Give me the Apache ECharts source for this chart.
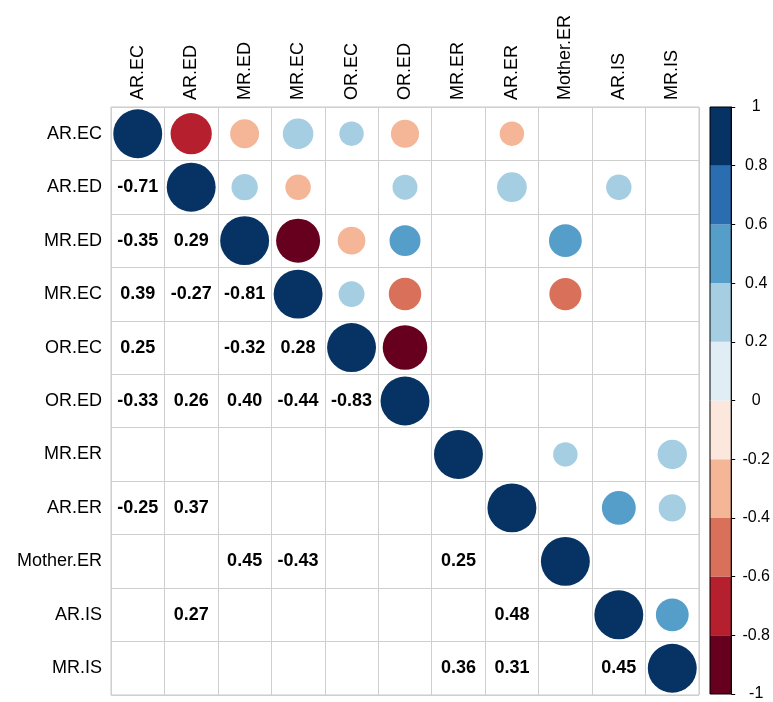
<!DOCTYPE html>
<html>
<head>
<meta charset="utf-8">
<script src="https://cdn.jsdelivr.net/npm/echarts@6/dist/echarts.min.js"></script>
<style>
html,body{margin:0;padding:0;background:#fff;}
#chart{width:773px;height:702px;}
</style>
</head>
<body>
<div id="chart"></div>
<script>
// Variable names (rows top->bottom, columns left->right)
const varNames = ['AR.EC','AR.ED','MR.ED','MR.EC','OR.EC','OR.ED','MR.ER','AR.ER','Mother.ER','AR.IS','MR.IS'];

// Lower triangle correlations (null = not significant / blank), diagonal = 1
const row_AR_EC     = [1];
const row_AR_ED     = [-0.71, 1];
const row_MR_ED     = [-0.35, 0.29, 1];
const row_MR_EC     = [0.39, -0.27, -0.81, 1];
const row_OR_EC     = [0.25, null, -0.32, 0.28, 1];
const row_OR_ED     = [-0.33, 0.26, 0.40, -0.44, -0.83, 1];
const row_MR_ER     = [null, null, null, null, null, null, 1];
const row_AR_ER     = [-0.25, 0.37, null, null, null, null, null, 1];
const row_Mother_ER = [null, null, 0.45, -0.43, null, null, 0.25, null, 1];
const row_AR_IS     = [null, 0.27, null, null, null, null, null, 0.48, null, 1];
const row_MR_IS     = [null, null, null, null, null, null, 0.36, 0.31, null, 0.45, 1];

// Colour bar breaks and bin colours
const colorBreaks = [-1, -0.8, -0.6, -0.4, -0.2, 0, 0.2, 0.4, 0.6, 0.8, 1];
const colorBins = ['#67001F','#B51F2E','#D9705A','#F5B597','#FCE7DC','#E1EDF5','#A6CEE3','#549EC9','#2A6DB0','#063264'];

const lowerRows = [row_AR_EC,row_AR_ED,row_MR_ED,row_MR_EC,row_OR_EC,row_OR_ED,row_MR_ER,row_AR_ER,row_Mother_ER,row_AR_IS,row_MR_IS];

const circleData = [];
const textData = [];
lowerRows.forEach((row, i) => {
  row.forEach((v, j) => {
    if (v === null) return;
    if (i === j) {
      circleData.push([varNames[j], varNames[i], v]);
    } else {
      textData.push([varNames[j], varNames[i], v]);
      circleData.push([varNames[i], varNames[j], v]); // mirrored into upper triangle
    }
  });
});

const barData = [];
for (let k = 0; k < colorBins.length; k++) {
  barData.push([colorBreaks[k], colorBreaks[k+1], k]);
}

const pieces = colorBins.map((c, k) => ({gte: colorBreaks[k], lt: colorBreaks[k+1] + (k === colorBins.length - 1 ? 0.001 : 0), color: c}));

const FONT = 'Liberation Sans, Arial, sans-serif';
const cellPx = 588 / varNames.length;

const chart = echarts.init(document.getElementById('chart'), null, {renderer: 'canvas'});
chart.setOption({
  backgroundColor: '#ffffff',
  animation: false,
  grid: [
    {left: 111, top: 107, width: 588, height: 588, show: true, borderColor: '#C8C8C8', borderWidth: 1, backgroundColor: 'transparent'},
    {left: 710, top: 107, width: 22, height: 588, show: false}
  ],
  xAxis: [
    {
      type: 'category', gridIndex: 0, data: varNames, position: 'top',
      axisLine: {show: false}, axisTick: {show: false},
      splitLine: {show: true, interval: 0, lineStyle: {color: '#CFCFCF', width: 1}},
      axisLabel: {rotate: -90, interval: 0, margin: 7, color: '#000', fontSize: 18, fontFamily: FONT}
    },
    {type: 'value', gridIndex: 1, min: 0, max: 1, show: false}
  ],
  yAxis: [
    {
      type: 'category', gridIndex: 0, data: varNames, inverse: true,
      axisLine: {show: false}, axisTick: {show: false},
      splitLine: {show: true, interval: 0, lineStyle: {color: '#CFCFCF', width: 1}},
      axisLabel: {interval: 0, margin: 9, color: '#000', fontSize: 18, fontFamily: FONT}
    },
    {
      type: 'value', gridIndex: 1, min: -1, max: 1, interval: 0.2, position: 'right',
      axisLine: {show: true, onZero: false, lineStyle: {color: '#000', width: 1}},
      axisTick: {show: true, inside: false, length: 4, lineStyle: {color: '#000'}},
      splitLine: {show: false},
      axisLabel: {margin: 25, align: 'center', color: '#000', fontSize: 16, fontFamily: FONT,
        formatter: v => String(Math.round(v * 10) / 10)}
    }
  ],
  visualMap: {
    type: 'piecewise', show: false, dimension: 2, seriesIndex: 0, pieces: pieces
  },
  series: [
    {
      type: 'scatter', xAxisIndex: 0, yAxisIndex: 0, data: circleData,
      symbol: 'circle',
      symbolSize: v => 0.915 * cellPx * Math.sqrt(Math.abs(v[2])),
      itemStyle: {opacity: 1}
    },
    {
      type: 'scatter', xAxisIndex: 0, yAxisIndex: 0, data: textData,
      symbol: 'circle', symbolSize: 1, itemStyle: {color: '#ffffff', opacity: 1},
      label: {show: true, position: 'inside', color: '#000000', opacity: 1, textBorderWidth: 0, fontSize: 18, fontWeight: 'bold', fontFamily: FONT,
        formatter: p => p.value[2].toFixed(2)}
    },
    {
      type: 'custom', xAxisIndex: 1, yAxisIndex: 1, data: barData,
      renderItem: (params, api) => {
        const lo = api.value(0), hi = api.value(1), k = api.value(2);
        const p1 = api.coord([0, hi]);
        const p2 = api.coord([1, lo]);
        return {type: 'rect', shape: {x: p1[0], y: p1[1], width: p2[0] - p1[0], height: p2[1] - p1[1]},
          style: {fill: colorBins[k]}};
      }
    },
    {
      type: 'custom', xAxisIndex: 1, yAxisIndex: 1, data: [[-1, 1]],
      renderItem: (params, api) => {
        const p1 = api.coord([0, api.value(1)]);
        const p2 = api.coord([1, api.value(0)]);
        return {type: 'rect', shape: {x: p1[0], y: p1[1], width: p2[0] - p1[0], height: p2[1] - p1[1]},
          style: {fill: 'none', stroke: '#000', lineWidth: 1}};
      }
    }
  ]
});
</script>
</body>
</html>
